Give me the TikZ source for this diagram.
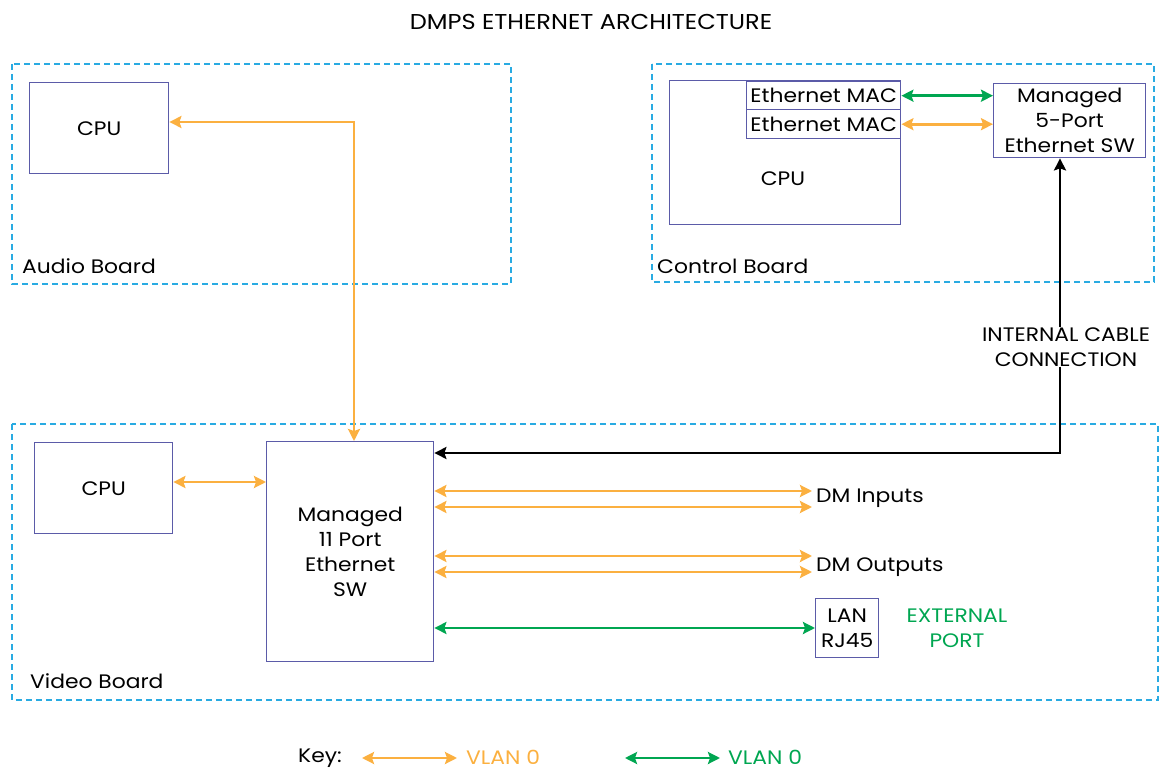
\documentclass[tikz,border=0pt]{standalone}
\usepackage{fontspec}
\setmainfont{Poppins}[FakeStretch=1.12]
\usetikzlibrary{arrows.meta}
\definecolor{boxblue}{HTML}{5B5BA8}
\definecolor{dashblue}{HTML}{29ABE2}
\definecolor{vorange}{HTML}{FBB040}
\definecolor{vgreen}{HTML}{00A651}
\tikzset{
  box/.style={draw=boxblue, line width=1.4pt, inner sep=0pt, anchor=north west, align=center, font=\fontsize{19.5}{25}\selectfont},
  board/.style={draw=dashblue, line width=1.2pt, dash pattern=on 6pt off 4pt},
  lbl/.style={inner sep=0pt, font=\fontsize{19.5}{25}\selectfont, align=center},
  keylbl/.style={inner sep=0pt, font=\fontsize{19.5}{25}\selectfont, text height=14pt, text depth=0pt, anchor=base west},
  oarrow/.style={draw=vorange, line width=2.8pt, {Stealth[length=12pt,width=12pt,inset=2pt]}-{Stealth[length=12pt,width=12pt,inset=2pt]}},
  garrow/.style={draw=vgreen, line width=2.8pt, {Stealth[length=12pt,width=12pt,inset=2pt]}-{Stealth[length=12pt,width=12pt,inset=2pt]}},
  karrow/.style={draw=black, line width=2.8pt, -{Stealth[length=12pt,width=12pt,inset=2pt]}},
}
\begin{document}
\begin{tikzpicture}[x=1pt,y=-1pt]
\useasboundingbox (0,0) rectangle (1165,770);
% title
\node[lbl, font=\fontsize{21.5}{22}\selectfont] (title) at (591,22) {DMPS ETHERNET ARCHITECTURE};
% boards
\draw[board] (12,64) rectangle (511,284);
\draw[board] (652,64) rectangle (1154,282);
\draw[board] (12,424) rectangle (1158,700);
\node[lbl, anchor=west] (alabel) at (22,266) {Audio Board};
\node[lbl, anchor=west] (clabel) at (657,266) {Control Board};
\node[lbl, anchor=west] (vlabel) at (30,681) {Video Board};
% audio
\node[box, minimum width=139pt, minimum height=91pt] (acpu) at (29,82) {CPU};
% control
\node[box, minimum width=231pt, minimum height=144pt] (ccpu) at (669,80) {};
\node[lbl] (ccputext) at (783,179) {CPU};
\node[box, minimum width=154pt, minimum height=28pt] (mac1) at (746,81) {Ethernet MAC};
\node[box, minimum width=154pt, minimum height=29pt] (mac2) at (746,109) {Ethernet MAC};
\node[box, minimum width=152pt, minimum height=74pt] (sw5) at (993,83) {Managed\\5-Port\\Ethernet SW};
\node[lbl] (cable) at (1066,347) {INTERNAL CABLE\\CONNECTION};
% video
\node[box, minimum width=138pt, minimum height=91pt] (vcpu) at (34,442) {CPU};
\node[box, minimum width=167pt, minimum height=220pt] (sw11) at (266,441) {Managed\\11 Port\\Ethernet\\SW};
\node[box, minimum width=63pt, minimum height=59pt] (lan) at (815,598) {LAN\\RJ45};
\node[lbl, text=vgreen] (ext) at (957,628) {EXTERNAL\\PORT};
\node[lbl, anchor=west] (dmin) at (816,498) {DM Inputs};
\node[lbl, anchor=west] (dmout) at (816,567) {DM Outputs};
\coordinate (e1) at (812,491);
\coordinate (e2) at (812,507);
\coordinate (e3) at (812,556);
\coordinate (e4) at (812,572);
% connectors
\draw[oarrow] (acpu.east |- 0,122) -| (sw11.north -| 354,0);
\draw[oarrow] (vcpu.east |- 0,482) -- (sw11.west |- 0,482);
\draw[oarrow] (sw11.east |- e1) -- (e1);
\draw[oarrow] (sw11.east |- e2) -- (e2);
\draw[oarrow] (sw11.east |- e3) -- (e3);
\draw[oarrow] (sw11.east |- e4) -- (e4);
\draw[garrow] (sw11.east |- 0,628) -- (lan.west |- 0,628);
\draw[garrow] (mac1.east) -- (sw5.west |- mac1.east);
\draw[oarrow] (mac2.east) -- (sw5.west |- mac2.east);
\draw[karrow] (cable.north -| 1060,0) -- (sw5.south -| 1060,0);
\draw[karrow] (cable.south -| 1060,0) |- (sw11.east |- 0,453);
% key
\node[keylbl] (key) at (298,762) {Key:};
\coordinate (k1a) at (362,758);
\coordinate (k1b) at (457,758);
\coordinate (k2a) at (625,758);
\coordinate (k2b) at (720,758);
\draw[oarrow] (k1a) -- (k1b);
\draw[garrow] (k2a) -- (k2b);
\node[keylbl, text=vorange] (v1) at (466,764) {VLAN 0};
\node[keylbl, text=vgreen] (v2) at (728,764) {VLAN 0};
\end{tikzpicture}
\end{document}
